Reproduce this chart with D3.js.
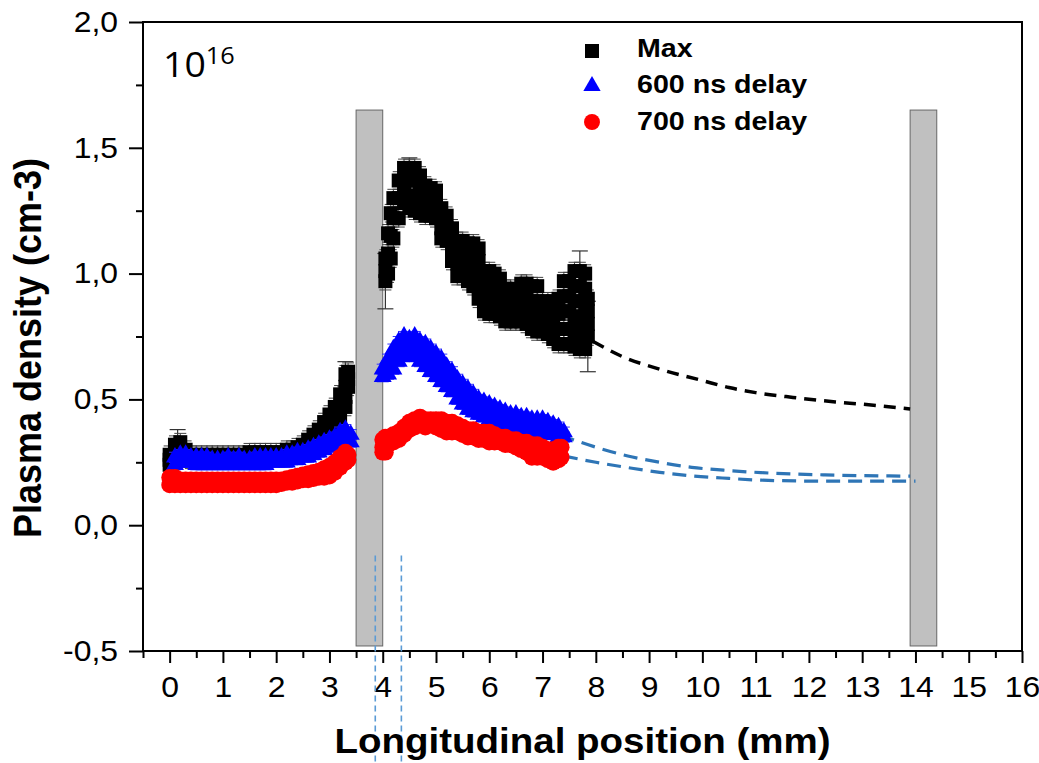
<!DOCTYPE html>
<html>
<head>
<meta charset="utf-8">
<script src="https://cdn.jsdelivr.net/npm/d3@7"></script>
<style>
  body { margin: 0; background: #fff; }
  text { font-family: "Liberation Sans", Arial, sans-serif; }
</style>
</head>
<body>
<div id="chart"></div>
<script>
// rows: [position (mm), readings...]  (values in 1e16 cm-3, several overlapping readings per position)
var maxRows = [
    [0.0,0.28,0.26,0.24],[0.1,0.32,0.29,0.26],[0.2,0.33,0.30,0.28],[0.3,0.30,0.27],[0.4,0.28,0.26],
    [0.5,0.28,0.26],[0.6,0.28,0.26],[0.7,0.28,0.26],[0.8,0.28,0.26],[0.9,0.28,0.26],
    [1.0,0.28,0.26],[1.1,0.28,0.26],[1.2,0.28,0.26],[1.3,0.28,0.26],[1.4,0.28,0.26],
    [1.5,0.29,0.26],[1.6,0.29,0.26],[1.7,0.29,0.27],[1.8,0.29,0.27],[1.9,0.29,0.27],
    [2.0,0.29,0.27],[2.1,0.29,0.27],[2.2,0.30,0.27],[2.3,0.30,0.28],[2.4,0.31,0.28],
    [2.5,0.32,0.29],[2.6,0.34,0.32,0.30],[2.7,0.36,0.33,0.31],[2.8,0.38,0.35,0.33],[2.9,0.41,0.38,0.35],
    [3.0,0.44,0.40,0.37],[3.1,0.47,0.43,0.40],[3.2,0.52,0.47,0.43],[3.3,0.60,0.55,0.51,0.47],[3.35,0.61,0.58,0.55],
    [4.05,1.06,1.01,0.97],[4.1,1.16,1.08,1.00],[4.15,1.24,1.15,1.06],[4.2,1.30,1.22,1.14],[4.3,1.37,1.30,1.22],
    [4.4,1.42,1.35,1.28],[4.5,1.42,1.37,1.31,1.26],[4.6,1.42,1.37,1.31,1.25],[4.7,1.39,1.34,1.29,1.24],
    [4.8,1.35,1.31,1.27,1.23],[4.9,1.34,1.30,1.26,1.23],[5.0,1.33,1.29,1.25,1.22],[5.1,1.26,1.22,1.18,1.14],
    [5.2,1.23,1.18,1.13],[5.3,1.18,1.13,1.09,1.05],[5.4,1.13,1.09,1.04,0.99],[5.5,1.13,1.09,1.04,0.99],
    [5.6,1.12,1.07,1.02,0.97],[5.7,1.12,1.07,1.01,0.95],[5.8,1.10,1.05,1.00,0.95,0.90],
    [5.9,1.01,0.96,0.90,0.85],[6.0,1.01,0.95,0.90,0.84],[6.1,1.00,0.95,0.89,0.84],[6.2,0.98,0.93,0.88,0.83],
    [6.3,0.94,0.89,0.85,0.81],[6.4,0.94,0.89,0.85,0.81],[6.5,0.93,0.89,0.85,0.81],[6.6,0.96,0.91,0.86,0.81],
    [6.7,0.96,0.91,0.85,0.80],[6.8,0.95,0.89,0.84,0.78],[6.9,0.95,0.89,0.83,0.77],[7.0,0.89,0.85,0.81,0.77],
    [7.1,0.89,0.85,0.80,0.76],[7.2,0.89,0.84,0.79,0.74],[7.3,0.90,0.84,0.78,0.72],
    [7.4,0.97,0.91,0.85,0.78,0.72],[7.5,0.97,0.91,0.85,0.78,0.72],[7.6,1.01,0.95,0.89,0.83,0.77,0.71],
    [7.7,1.01,0.95,0.89,0.82,0.76,0.70],[7.8,1.00,0.94,0.88,0.82,0.76,0.70],[7.85,0.90,0.85,0.80,0.75]
];
var blueRows = [
    [0.1,0.27,0.24],[0.2,0.28,0.25],[0.3,0.28,0.25],[0.4,0.27,0.25],[0.5,0.27,0.24],
    [0.6,0.27,0.24],[0.7,0.27,0.24],[0.8,0.26,0.24],[0.9,0.26,0.24],[1.0,0.26,0.24],
    [1.1,0.27,0.24],[1.2,0.26,0.24],[1.3,0.27,0.24],[1.4,0.26,0.24],[1.5,0.26,0.24],
    [1.6,0.27,0.24],[1.7,0.27,0.24],[1.8,0.27,0.24],[1.9,0.27,0.25],[2.0,0.27,0.25],
    [2.1,0.27,0.25],[2.2,0.28,0.25],[2.3,0.28,0.26],[2.4,0.29,0.26],[2.5,0.29,0.27],
    [2.6,0.30,0.27],[2.7,0.31,0.28],[2.8,0.32,0.29],[2.9,0.33,0.30],[3.0,0.34,0.31],
    [3.1,0.35,0.32],[3.2,0.37,0.33],[3.3,0.38,0.34],[3.4,0.36,0.33],
    [4.0,0.62,0.59],[4.1,0.66,0.63,0.60],[4.2,0.70,0.66,0.62],[4.3,0.73,0.69,0.65],[4.4,0.75,0.71,0.67],
    [4.5,0.74,0.70,0.67],[4.6,0.75,0.71,0.67],[4.7,0.73,0.69,0.65],[4.8,0.72,0.68,0.63],[4.9,0.70,0.66,0.61],
    [5.0,0.68,0.64,0.59],[5.1,0.66,0.62,0.57],[5.2,0.63,0.59,0.55],[5.3,0.61,0.57,0.53],[5.4,0.58,0.54,0.50],
    [5.5,0.56,0.52,0.48],[5.6,0.54,0.50,0.46],[5.7,0.52,0.48,0.45],[5.8,0.50,0.47,0.44],[5.9,0.49,0.46,0.43],
    [6.0,0.48,0.45,0.42],[6.1,0.47,0.44,0.41],[6.2,0.46,0.43,0.40],[6.3,0.45,0.42,0.40],[6.4,0.44,0.41,0.39],
    [6.5,0.44,0.41,0.39],[6.6,0.43,0.40,0.38],[6.7,0.43,0.40,0.38],[6.8,0.42,0.39,0.37],[6.9,0.42,0.39,0.37],
    [7.0,0.42,0.39,0.37],[7.1,0.41,0.38,0.36],[7.2,0.40,0.38,0.36],[7.3,0.39,0.37,0.35],[7.4,0.37,0.35]
];
var redRows = [
    [0.0,0.19,0.16],[0.1,0.19,0.16],[0.2,0.18,0.16],[0.3,0.18,0.16],[0.4,0.18,0.16],
    [0.5,0.18,0.16],[0.6,0.18,0.16],[0.7,0.18,0.16],[0.8,0.18,0.16],[0.9,0.18,0.16],
    [1.0,0.18,0.16],[1.1,0.18,0.16],[1.2,0.18,0.16],[1.3,0.18,0.16],[1.4,0.18,0.16],
    [1.5,0.18,0.16],[1.6,0.18,0.16],[1.7,0.18,0.16],[1.8,0.18,0.16],[1.9,0.18,0.16],
    [2.0,0.18,0.16],[2.1,0.18,0.165],[2.2,0.185,0.17],[2.3,0.19,0.17],[2.4,0.195,0.175],
    [2.5,0.20,0.18],[2.6,0.205,0.18],[2.7,0.21,0.185],[2.8,0.215,0.19],[2.9,0.225,0.19],
    [3.0,0.235,0.195],[3.1,0.25,0.21],[3.2,0.27,0.23],[3.3,0.29,0.25],[3.35,0.28,0.26],
    [4.0,0.34,0.31,0.29],[4.05,0.35,0.32,0.29],[4.1,0.35,0.32],[4.2,0.36,0.33],[4.3,0.37,0.34],[4.4,0.39,0.36],
    [4.5,0.41,0.38],[4.6,0.42,0.39],[4.7,0.43,0.40],[4.8,0.42,0.39],[4.9,0.42,0.40],
    [5.0,0.42,0.39],[5.1,0.42,0.38],[5.2,0.41,0.37],[5.3,0.41,0.37],[5.4,0.40,0.37],
    [5.5,0.39,0.36],[5.6,0.38,0.35],[5.7,0.38,0.35],[5.8,0.37,0.34],[5.9,0.37,0.34],
    [6.0,0.37,0.33],[6.1,0.36,0.33],[6.2,0.35,0.33],[6.3,0.35,0.32],[6.4,0.34,0.32],
    [6.5,0.34,0.31],[6.6,0.33,0.30],[6.7,0.33,0.29],[6.8,0.32,0.29,0.27],[6.9,0.32,0.29,0.27],
    [7.0,0.31,0.29,0.27],[7.1,0.30,0.28,0.26],[7.2,0.30,0.27,0.25],[7.3,0.31,0.28,0.26],[7.35,0.31,0.27]
];
var errMax = 0.035, errBlue = 0.02, errRed = 0.02;
// a few long error bars that stick out of the bands: [x, value, error]
var maxWideErr = [[0.15,0.33,0.05],[3.3,0.60,0.05],[4.05,0.97,0.11],[4.5,1.42,0.04],[7.7,1.01,0.08],[7.85,0.75,0.14]];

// extrapolated trends (dashed)
var maxTrend = [[7.95,0.73],[8.5,0.67],[9.2,0.62],[10.0,0.575],[10.5,0.547],[11.0,0.527],[11.7,0.508],[12.5,0.49],[13.0,0.481],[13.9,0.462]];
var blueTrendA = [[6.95,0.385],[7.5,0.345],[8.0,0.31],[8.6,0.275],[9.2,0.25],[9.8,0.23],[10.5,0.217],[11.1,0.209],[12.3,0.200],[13.9,0.195]];
var blueTrendB = [[7.4,0.275],[8.0,0.25],[8.6,0.229],[9.2,0.21],[9.8,0.196],[10.5,0.186],[11.1,0.179],[12.3,0.175],[14.0,0.175]];

// gray blocks [x0, x1, top, bottom] and vertical markers
var blocks = [[3.5,4.0,1.65,-0.48],[13.9,14.4,1.65,-0.48]];
var markerLines = [3.86, 4.35];
var markerSpan = [-0.12, -0.95];

var xTicks = d3.range(0, 17);
var xMinor = [-0.5,0.5,1.5,2.5,3.5,4.5,5.5,6.5,7.5,8.5,9.5,10.5,11.5,12.5,13.5,14.5,15.5];
var yTicks = [-0.5, 0, 0.5, 1.0, 1.5, 2.0];
var yMinor = [-0.25, 0.25, 0.75, 1.25, 1.75];
var legendItems = ["Max", "600 ns delay", "700 ns delay"];

function init() {
    var W = 1039, H = 763,
        left = 143, right = 1022, top = 22, bottom = 651;

    var svg = d3.select("#chart").append("svg")
        .attr("width", W).attr("height", H);

    var x = d3.scaleLinear().domain([-0.5, 16]).range([left, right]);
    var y = d3.scaleLinear().domain([-0.5, 2.0]).range([bottom, top]);

    // x axis
    var xAxis = svg.append("g")
        .attr("transform", "translate(0," + bottom + ")")
        .call(d3.axisBottom(x).tickValues(xTicks).tickSize(12).tickPadding(13).tickFormat(d3.format("d")));
    xAxis.selectAll("text").style("font-size", "29px").attr("transform", "scale(1.1,1)");
    svg.append("g")
        .attr("transform", "translate(0," + bottom + ")")
        .call(d3.axisBottom(x).tickValues(xMinor).tickSize(7).tickFormat(""));

    // y axis
    var yAxis = svg.append("g")
        .attr("transform", "translate(" + left + ",0)")
        .call(d3.axisLeft(y).tickValues(yTicks).tickSize(14).tickPadding(11)
            .tickFormat(function(d) { return d3.format(".1f")(d).replace(".", ",").replace("−", "-"); }));
    yAxis.selectAll("text").style("font-size", "29px")
        .attr("x", -25 / 1.1).attr("transform", "scale(1.1,1)");
    svg.append("g")
        .attr("transform", "translate(" + left + ",0)")
        .call(d3.axisLeft(y).tickValues(yMinor).tickSize(7).tickFormat(""));

    svg.selectAll(".domain").remove();
    svg.selectAll(".tick line").attr("stroke", "#000").attr("stroke-width", 2);
    svg.selectAll(".tick text").attr("fill", "#000");

    // frame
    svg.append("rect")
        .attr("x", x(-0.5)).attr("y", y(2.0))
        .attr("width", x(16) - x(-0.5)).attr("height", y(-0.5) - y(2.0))
        .attr("fill", "none").attr("stroke", "#000").attr("stroke-width", 2);

    // gray blocks
    svg.selectAll(".block").data(blocks).enter().append("rect")
        .attr("class", "block")
        .attr("x", d => x(d[0])).attr("y", d => y(d[2]))
        .attr("width", d => x(d[1]) - x(d[0])).attr("height", d => y(d[3]) - y(d[2]))
        .attr("fill", "#c0c0c0").attr("stroke", "#666").attr("stroke-width", 1);

    // dashed trends
    var line = d3.line().x(d => x(d[0])).y(d => y(d[1])).curve(d3.curveMonotoneX);
    svg.append("path").datum(maxTrend).attr("d", line)
        .attr("fill", "none").attr("stroke", "#000").attr("stroke-width", 3.5).attr("stroke-dasharray", "12,8");
    [blueTrendA, blueTrendB].forEach(function(t) {
        svg.append("path").datum(t).attr("d", line)
            .attr("fill", "none").attr("stroke", "#2e75b6").attr("stroke-width", 3.2).attr("stroke-dasharray", "14,8");
    });

    // scatter series with error bars
    function drawSeries(rows, err, color, barColor, symbolType, size) {
        var pts = [];
        rows.forEach(function(r) {
            r.slice(1).forEach(function(v) { pts.push([r[0], v]); });
        });
        var g = svg.append("g");
        var eb = g.selectAll(".eb").data(pts).enter().append("g");
        eb.append("line")
            .attr("x1", d => x(d[0])).attr("x2", d => x(d[0]))
            .attr("y1", d => y(d[1] + err)).attr("y2", d => y(d[1] - err));
        eb.append("line")
            .attr("x1", d => x(d[0]) - 6).attr("x2", d => x(d[0]) + 6)
            .attr("y1", d => y(d[1] + err)).attr("y2", d => y(d[1] + err));
        eb.append("line")
            .attr("x1", d => x(d[0]) - 6).attr("x2", d => x(d[0]) + 6)
            .attr("y1", d => y(d[1] - err)).attr("y2", d => y(d[1] - err));
        eb.selectAll("line").attr("stroke", barColor).attr("stroke-width", 1);
        g.selectAll(".pt").data(pts).enter().append("path")
            .attr("d", d3.symbol().type(symbolType).size(size))
            .attr("transform", d => "translate(" + x(d[0]) + "," + y(d[1]) + ")")
            .attr("fill", color);
        return g;
    }

    // long error bars for Max drawn beneath its markers
    var wide = svg.append("g");
    maxWideErr.forEach(function(d) {
        var cx = x(d[0]);
        wide.append("line").attr("x1", cx).attr("x2", cx).attr("y1", y(d[1] + d[2])).attr("y2", y(d[1] - d[2]));
        wide.append("line").attr("x1", cx - 8).attr("x2", cx + 8).attr("y1", y(d[1] + d[2])).attr("y2", y(d[1] + d[2]));
        wide.append("line").attr("x1", cx - 8).attr("x2", cx + 8).attr("y1", y(d[1] - d[2])).attr("y2", y(d[1] - d[2]));
    });
    wide.selectAll("line").attr("stroke", "#333").attr("stroke-width", 1.2);

    drawSeries(maxRows, errMax, "#000", "#444", d3.symbolSquare, 196);
    drawSeries(blueRows, errBlue, "#0000ff", "#3333ff", d3.symbolTriangle, 140);
    drawSeries(redRows, errRed, "#ff0000", "#ff3333", d3.symbolCircle, 220);

    // vertical marker lines
    svg.selectAll(".vmark").data(markerLines).enter().append("line")
        .attr("x1", d => x(d)).attr("x2", d => x(d))
        .attr("y1", y(markerSpan[0])).attr("y2", y(markerSpan[1]))
        .attr("stroke", "#5b9bd5").attr("stroke-width", 1.6).attr("stroke-dasharray", "6,4");

    // legend
    var legendSymbols = [
        {type: d3.symbolSquare, size: 196, color: "#000", cy: 51},
        {type: d3.symbolTriangle, size: 130, color: "#0000ff", cy: 86},
        {type: d3.symbolCircle, size: 200, color: "#ff0000", cy: 122}
    ];
    var textBase = [57, 93, 130];
    legendItems.forEach(function(name, i) {
        svg.append("path")
            .attr("d", d3.symbol().type(legendSymbols[i].type).size(legendSymbols[i].size))
            .attr("transform", "translate(592," + legendSymbols[i].cy + ")")
            .attr("fill", legendSymbols[i].color);
        svg.append("g").attr("transform", "translate(637," + textBase[i] + ") scale(1.1,1)")
            .append("text")
            .style("font-size", "26px").style("font-weight", "bold")
            .text(name);
    });

    // 10^16 multiplier
    var mult = svg.append("g").attr("transform", "translate(163,77) scale(1.1,1)")
        .append("text").style("font-family", "'Open Sans', sans-serif").style("font-size", "34px");
    mult.append("tspan").text("10");
    mult.append("tspan").attr("dy", -13).style("font-size", "23px").text("16");

    // axis titles
    svg.append("g").attr("transform", "translate(" + ((left + right) / 2) + ",753) scale(1.1,1)")
        .append("text").attr("text-anchor", "middle")
        .style("font-size", "35px").style("font-weight", "bold")
        .text("Longitudinal position (mm)");
    svg.append("g").attr("transform", "translate(41,348) scale(1.1,1) rotate(-90)")
        .append("text").attr("text-anchor", "middle")
        .style("font-size", "36px").style("font-weight", "bold")
        .text("Plasma density (cm-3)");
}

init();
</script>
</body>
</html>
